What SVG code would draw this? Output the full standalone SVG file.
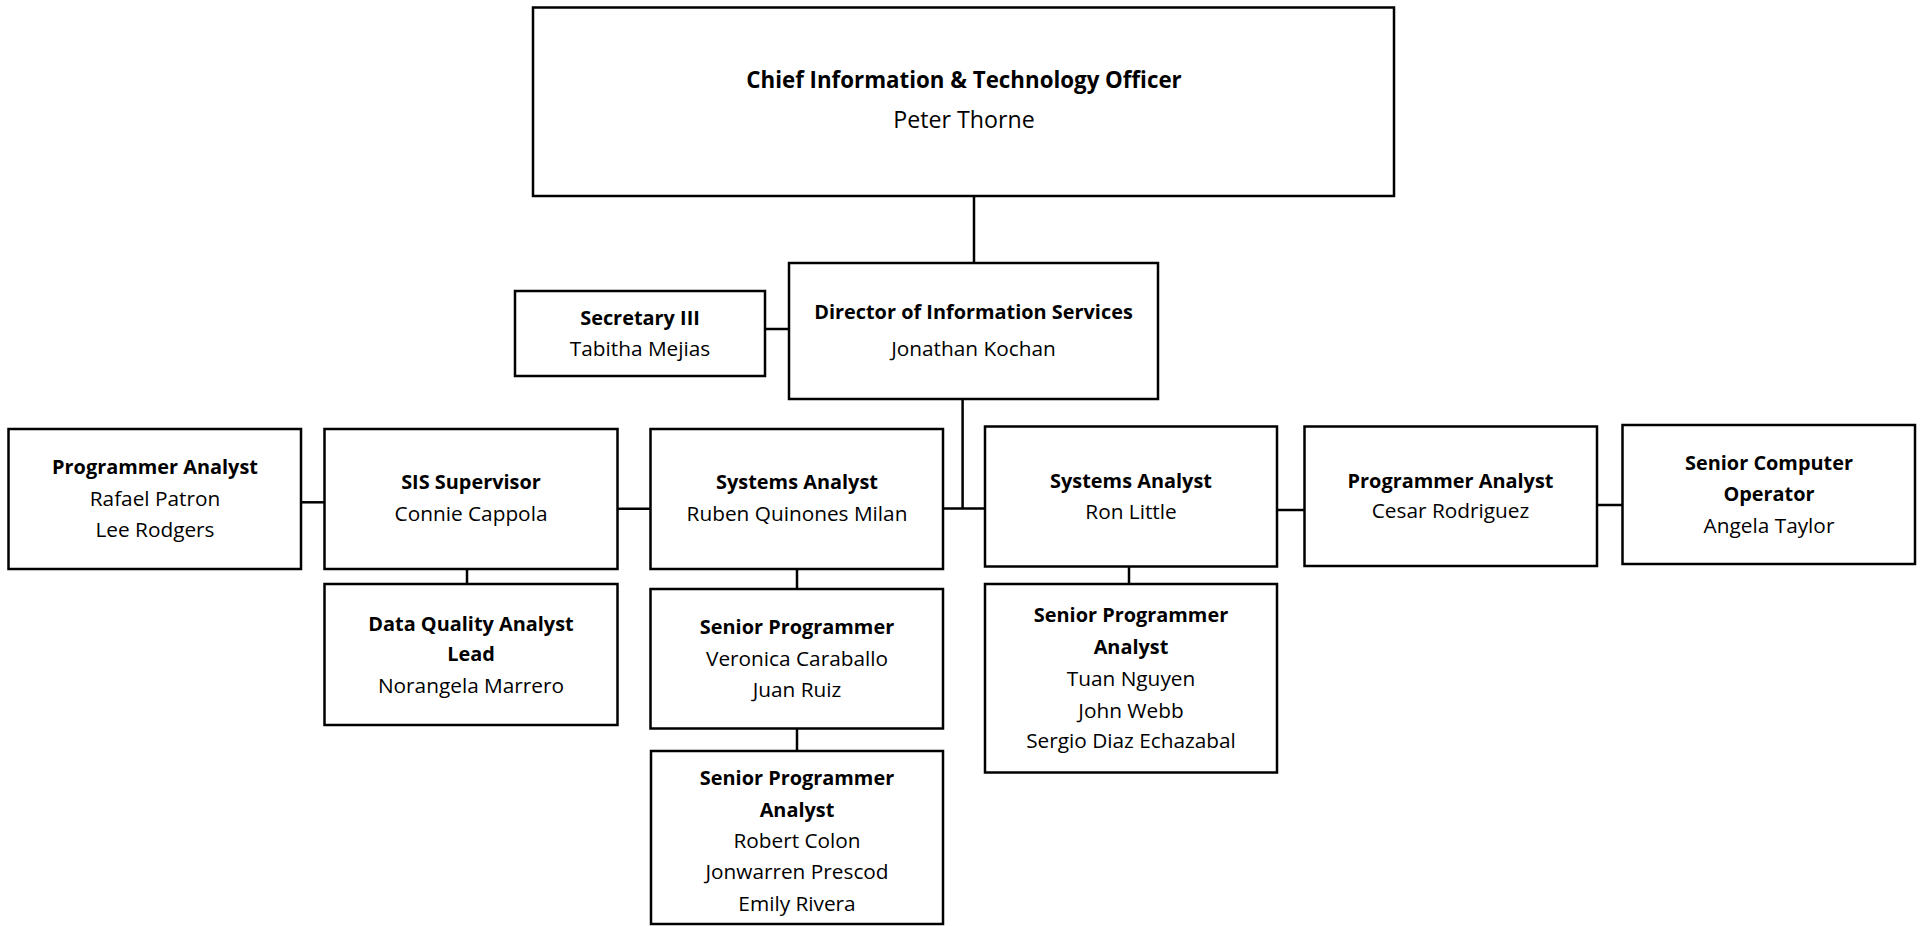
<svg xmlns="http://www.w3.org/2000/svg" width="1923" height="926" viewBox="0 0 1923 926">
<style>
  .box{fill:#fff;stroke:#000;stroke-width:2.5}
  .conn path{fill:none;stroke:#000;stroke-width:2.5}
  text{font-family:"Open Sans","Noto Sans",sans-serif;font-size:20.8px;fill:#000;text-anchor:middle}
  .b{font-weight:bold;font-size:19.9px}
  .big{font-size:23.2px}
  .b.big{font-size:22.3px}
</style>
<rect width="1923" height="926" fill="#fff"/>
<g class="conn">
  <path d="M974 196V263"/>
  <path d="M765 329H789"/>
  <path d="M962.6 399V508.5M943 508.5H985"/>
  <path d="M301 502.3H324.5"/>
  <path d="M617.5 508.7H650.5"/>
  <path d="M467 569V584"/>
  <path d="M797 569V589"/>
  <path d="M797 728.5V751"/>
  <path d="M1129 566.5V584"/>
  <path d="M1277 510H1304.5"/>
  <path d="M1597 505H1622.5"/>
</g>
<g id="cio">
  <rect class="box" x="533" y="7.5" width="861" height="188.5"/>
  <text class="b big" x="964" y="88">Chief Information &amp; Technology Officer</text>
  <text class="big" x="964" y="128">Peter Thorne</text>
</g>
<g id="director">
  <rect class="box" x="789" y="263" width="369" height="136"/>
  <text class="b" x="973.5" y="319">Director of Information Services</text>
  <text x="973.5" y="356">Jonathan Kochan</text>
</g>
<g id="secretary">
  <rect class="box" x="515" y="291" width="250" height="85"/>
  <text class="b" x="640" y="325">Secretary III</text>
  <text x="640" y="356">Tabitha Mejias</text>
</g>
<g id="pa1">
  <rect class="box" x="8.5" y="429" width="292.5" height="140"/>
  <text class="b" x="155" y="474">Programmer Analyst</text>
  <text x="155" y="505.5">Rafael Patron</text>
  <text x="155" y="537">Lee Rodgers</text>
</g>
<g id="sis">
  <rect class="box" x="324.5" y="429" width="293" height="140"/>
  <text class="b" x="471" y="489">SIS Supervisor</text>
  <text x="471" y="521">Connie Cappola</text>
</g>
<g id="dq">
  <rect class="box" x="324.5" y="584" width="293" height="141"/>
  <text class="b" x="471" y="631">Data Quality Analyst</text>
  <text class="b" x="471" y="661">Lead</text>
  <text x="471" y="693">Norangela Marrero</text>
</g>
<g id="sysa1">
  <rect class="box" x="650.5" y="429" width="292.5" height="140"/>
  <text class="b" x="797" y="489">Systems Analyst</text>
  <text x="797" y="521">Ruben Quinones Milan</text>
</g>
<g id="sp">
  <rect class="box" x="650.5" y="589" width="292.5" height="139.5"/>
  <text class="b" x="797" y="634">Senior Programmer</text>
  <text x="797" y="665.5">Veronica Caraballo</text>
  <text x="797" y="697">Juan Ruiz</text>
</g>
<g id="spa1">
  <rect class="box" x="651" y="751" width="292" height="173"/>
  <text class="b" x="797" y="785">Senior Programmer</text>
  <text class="b" x="797" y="816.5">Analyst</text>
  <text x="797" y="848">Robert Colon</text>
  <text x="797" y="879">Jonwarren Prescod</text>
  <text x="797" y="910.5">Emily Rivera</text>
</g>
<g id="sysa2">
  <rect class="box" x="985" y="426.5" width="292" height="140"/>
  <text class="b" x="1131" y="488">Systems Analyst</text>
  <text x="1131" y="519">Ron Little</text>
</g>
<g id="spa2">
  <rect class="box" x="985" y="584" width="292" height="188.5"/>
  <text class="b" x="1131" y="622">Senior Programmer</text>
  <text class="b" x="1131" y="654">Analyst</text>
  <text x="1131" y="685.5">Tuan Nguyen</text>
  <text x="1131" y="717.5">John Webb</text>
  <text x="1131" y="748">Sergio Diaz Echazabal</text>
</g>
<g id="pa2">
  <rect class="box" x="1304.5" y="426.5" width="292.5" height="139.5"/>
  <text class="b" x="1450.5" y="487.5">Programmer Analyst</text>
  <text x="1450.5" y="518">Cesar Rodriguez</text>
</g>
<g id="sco">
  <rect class="box" x="1622.5" y="425" width="292.5" height="139"/>
  <text class="b" x="1769" y="470">Senior Computer</text>
  <text class="b" x="1769" y="500.5">Operator</text>
  <text x="1769" y="532.5">Angela Taylor</text>
</g>
</svg>
